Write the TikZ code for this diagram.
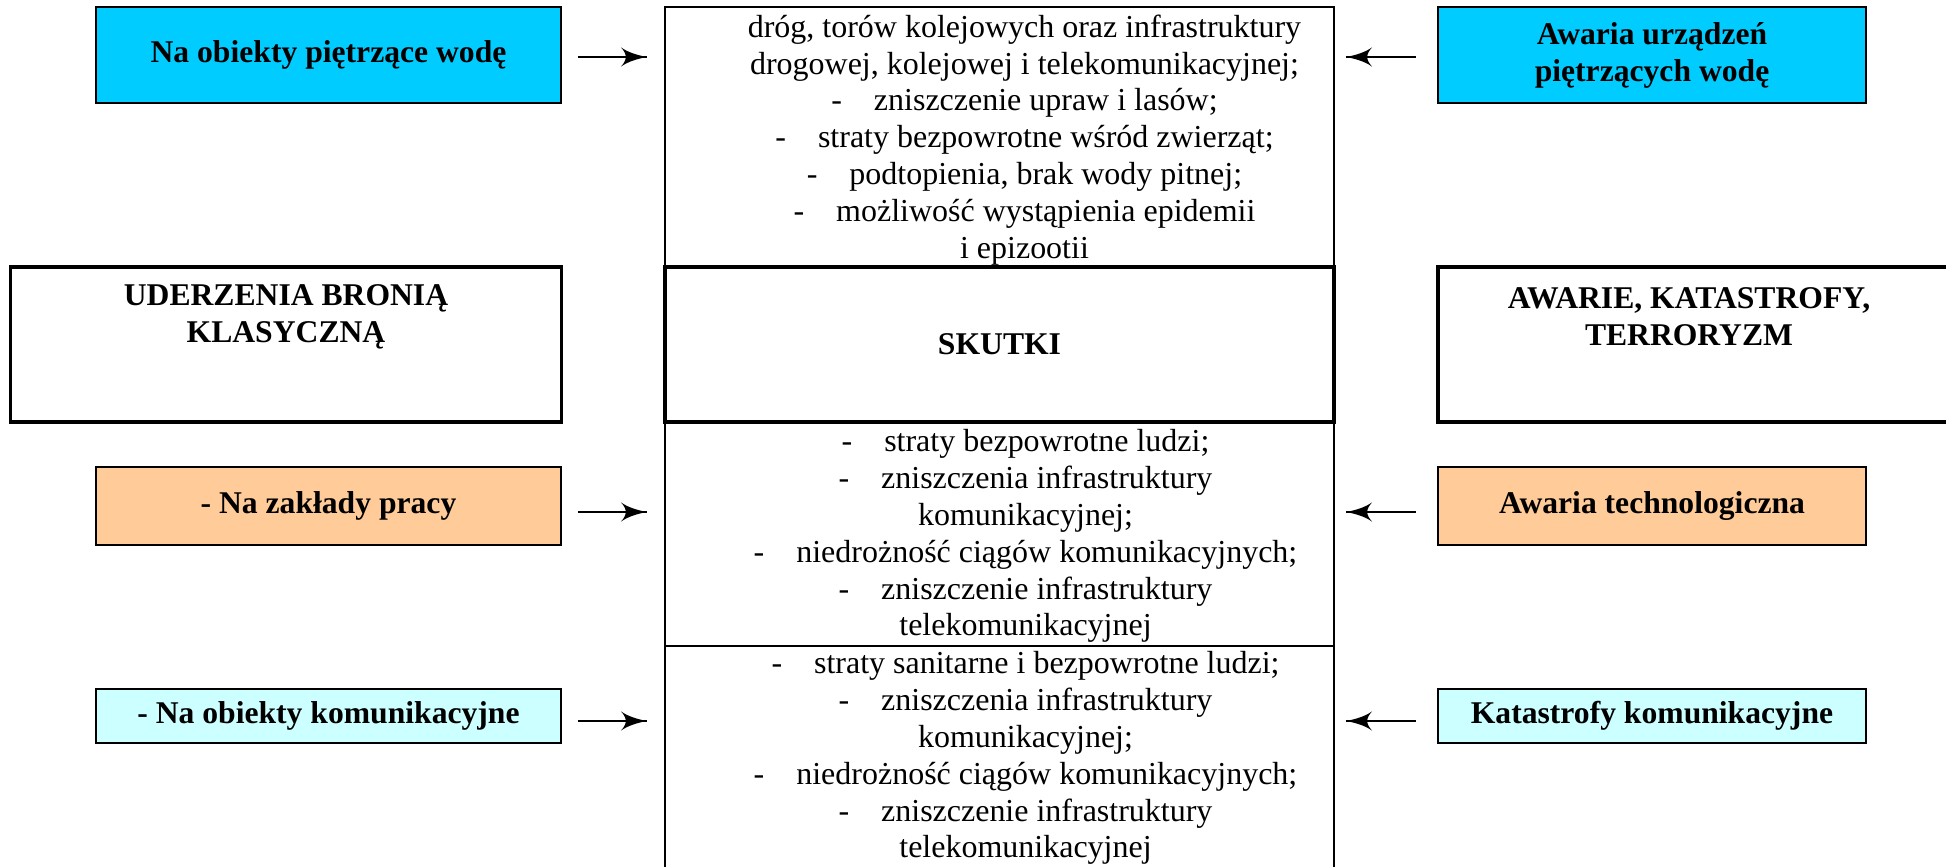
\documentclass[tikz,border=0pt]{standalone}
\usepackage{fontspec}
\setmainfont{Liberation Serif}
\usepackage{tikz}
\usetikzlibrary{arrows}
\usetikzlibrary{decorations.markings}
\usetikzlibrary{positioning}
\tikzset{->/.style = {line width=0.6pt,
                      decoration={markings,
                                  mark=at position 1 with {\arrow[scale=1.6]{latex'}}},
                      postaction={decorate}}}
\tikzset{box/.style = {draw, line width=0.7pt, inner sep=0, align=center,
                       font=\bfseries\fontsize{9}{10.5}\selectfont}}
\tikzset{bigbox/.style = {box, line width=1pt}}
\tikzset{list/.style = {align=center, inner sep=0,
                        font=\fontsize{9.1}{10.5}\selectfont}}
\definecolor{mcyan}{RGB}{0, 204, 255}
\definecolor{morange}{RGB}{255, 204, 153}
\definecolor{mlight}{RGB}{204, 255, 255}

\begin{document}
\begin{tikzpicture}
    \useasboundingbox (0, 0) rectangle (19.46, 8.66);

    % srodkowa kolumna
    \node (top) at (9.995, 7.29) [box, minimum width=6.69cm, minimum height=2.60cm] {};
    \node (skutki) at (9.995, 5.215) [bigbox, minimum width=6.69cm, minimum height=1.55cm] {SKUTKI};
    \node (mid) at (9.995, 3.32) [box, minimum width=6.69cm, minimum height=2.24cm] {};
    \node (bot) at (9.995, 1.08) [box, minimum width=6.69cm, minimum height=2.24cm] {};

    \node (toptxt) at ([xshift=0.25cm, yshift=-0.03cm]top.center) [list] {dróg, torów kolejowych oraz infrastruktury\\
      drogowej, kolejowej i telekomunikacyjnej;\\
      -\quad zniszczenie upraw i lasów;\\
      -\quad straty bezpowrotne wśród zwierząt;\\
      -\quad podtopienia, brak wody pitnej;\\
      -\quad możliwość wystąpienia epidemii\\
      i epizootii};
    \node (midtxt) at ([xshift=0.26cm, yshift=-0.02cm]mid.center) [list] {-\quad straty bezpowrotne ludzi;\\
      -\quad zniszczenia infrastruktury\\
      komunikacyjnej;\\
      -\quad niedrożność ciągów komunikacyjnych;\\
      -\quad zniszczenie infrastruktury\\
      telekomunikacyjnej};
    \node (bottxt) at ([xshift=0.26cm]bot.center) [list] {-\quad straty sanitarne i bezpowrotne ludzi;\\
      -\quad zniszczenia infrastruktury\\
      komunikacyjnej;\\
      -\quad niedrożność ciągów komunikacyjnych;\\
      -\quad zniszczenie infrastruktury\\
      telekomunikacyjnej};

    % lewa kolumna
    \node (bron) at (2.86, 5.215) [bigbox, minimum width=5.51cm, minimum height=1.55cm] {};
    \node (brontxt) at ([yshift=0.28cm]bron.center) [box, draw=none] {UDERZENIA BRONIĄ\\KLASYCZNĄ};
    \node (lwoda) at (3.285, 8.11) [box, fill=mcyan, minimum width=4.65cm, minimum height=0.96cm] {Na obiekty piętrzące wodę};
    \node (lzaklad) at (3.285, 3.60) [box, fill=morange, minimum width=4.65cm, minimum height=0.78cm] {- Na zakłady pracy};
    \node (lkom) at (3.285, 1.50) [box, fill=mlight, minimum width=4.65cm, minimum height=0.54cm] {- Na obiekty komunikacyjne};

    % prawa kolumna
    \node (awarie) at (17.13, 5.215) [bigbox, minimum width=5.5cm, minimum height=1.55cm] {};
    \node (awarietxt) at (16.89, 5.495) [box, draw=none] {AWARIE, KATASTROFY,\\TERRORYZM};
    \node (rwoda) at (16.52, 8.11) [box, fill=mcyan, minimum width=4.28cm, minimum height=0.96cm] {Awaria urządzeń\\piętrzących wodę};
    \node (rtech) at (16.52, 3.60) [box, fill=morange, minimum width=4.28cm, minimum height=0.78cm] {Awaria technologiczna};
    \node (rkom) at (16.52, 1.50) [box, fill=mlight, minimum width=4.28cm, minimum height=0.54cm] {Katastrofy komunikacyjne};

    % strzalki
    \draw [->] ([xshift=0.16cm, yshift=-0.02cm]lwoda.east) -- ([xshift=-0.17cm, yshift=-0.02cm]lwoda.east -| top.west);
    \draw [->] ([xshift=0.16cm, yshift=-0.06cm]lzaklad.east) -- ([xshift=-0.17cm, yshift=-0.06cm]lzaklad.east -| mid.west);
    \draw [->] ([xshift=0.16cm, yshift=-0.05cm]lkom.east) -- ([xshift=-0.17cm, yshift=-0.05cm]lkom.east -| bot.west);
    \draw [->] ([xshift=-0.21cm, yshift=-0.02cm]rwoda.west) -- ([xshift=0.11cm, yshift=-0.02cm]rwoda.west -| top.east);
    \draw [->] ([xshift=-0.21cm, yshift=-0.06cm]rtech.west) -- ([xshift=0.11cm, yshift=-0.06cm]rtech.west -| mid.east);
    \draw [->] ([xshift=-0.21cm, yshift=-0.05cm]rkom.west) -- ([xshift=0.11cm, yshift=-0.05cm]rkom.west -| bot.east);
\end{tikzpicture}
\end{document}
